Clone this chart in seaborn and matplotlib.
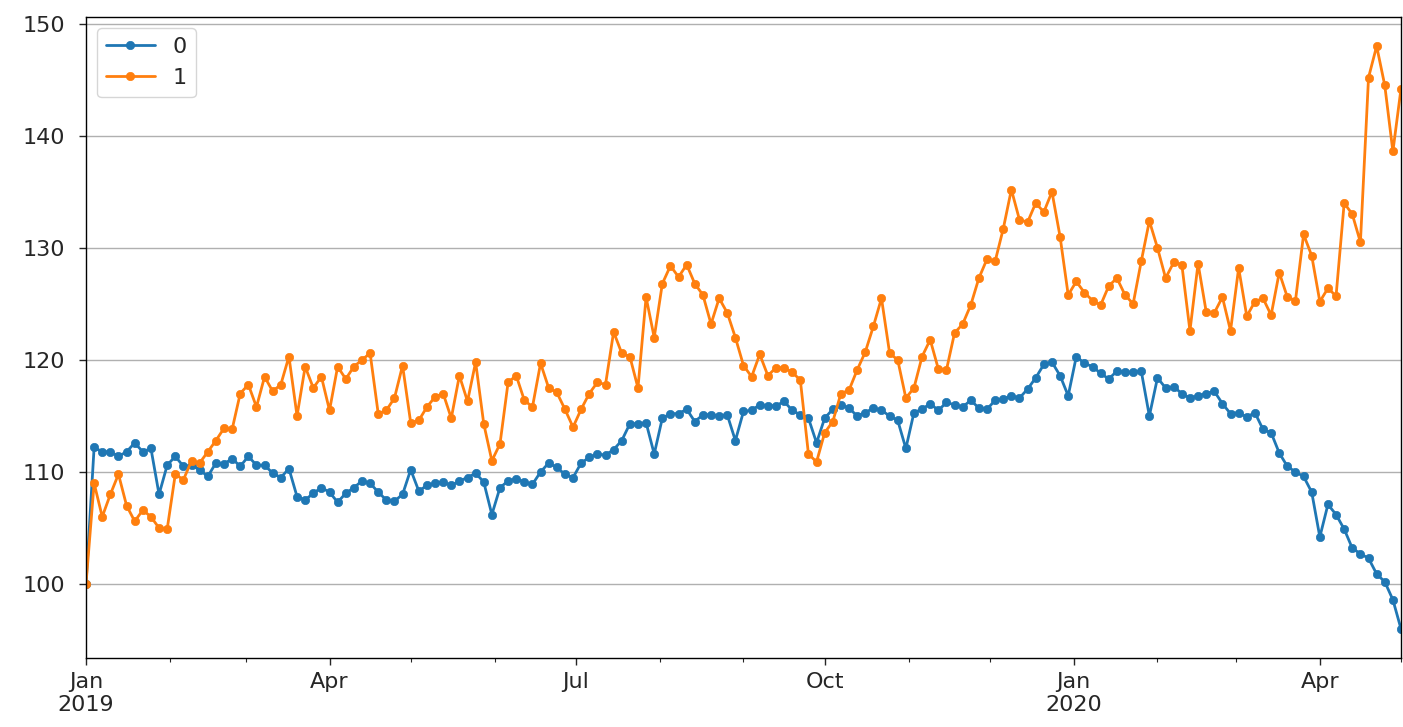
import numpy as np
import pandas as pd
import matplotlib
matplotlib.use('Agg')
import matplotlib.pyplot as plt
import matplotlib.dates as mdates
from matplotlib.ticker import FuncFormatter
import seaborn as sns

# ── Data (one value every 3 days) ─────────────────────────────────────────────
start_date = '2019-01-01'
step = '3D'

series_0 = [
    100.0, 112.2, 111.8, 111.8, 111.4, 111.8, 112.6, 111.8, 112.1, 108.0,
    110.6, 111.4, 110.5, 110.6, 110.2, 109.6, 110.8, 110.7, 111.2, 110.5,
    111.4, 110.6, 110.6, 109.9, 109.5, 110.3, 107.8, 107.5, 108.1, 108.6,
    108.2, 107.3, 108.1, 108.6, 109.2, 109.0, 108.2, 107.5, 107.4, 108.0,
    110.2, 108.3, 108.8, 109.0, 109.1, 108.8, 109.2, 109.5, 109.9, 109.1,
    106.2, 108.6, 109.2, 109.4, 109.1, 108.9, 110.0, 110.8, 110.4, 109.8,
    109.5, 110.8, 111.3, 111.6, 111.5, 112.0, 112.8, 114.3, 114.3, 114.4,
    111.6, 114.8, 115.2, 115.2, 115.6, 114.5, 115.1, 115.1, 115.0, 115.1,
    112.8, 115.4, 115.5, 116.0, 115.9, 115.9, 116.3, 115.5, 115.1, 114.8,
    112.6, 114.8, 115.6, 116.0, 115.7, 115.0, 115.3, 115.7, 115.5, 115.0,
    114.6, 112.1, 115.3, 115.6, 116.1, 115.5, 116.2, 116.0, 115.8, 116.4,
    115.7, 115.6, 116.4, 116.5, 116.8, 116.6, 117.4, 118.4, 119.6, 119.8,
    118.6, 116.8, 120.3, 119.7, 119.4, 118.8, 118.3, 119.0, 118.9, 118.9,
    119.0, 115.0, 118.4, 117.5, 117.6, 117.0, 116.6, 116.8, 117.0, 117.2,
    116.1, 115.2, 115.3, 114.9, 115.3, 113.8, 113.5, 111.7, 110.5, 110.0,
    109.6, 108.2, 104.2, 107.1, 106.2, 104.9, 103.2, 102.7, 102.3, 100.9,
    100.2, 98.6, 96.0,
]

series_1 = [
    100.0, 109.0, 106.0, 108.0, 109.8, 107.0, 105.6, 106.6, 106.0, 105.0,
    104.9, 109.8, 109.3, 111.0, 110.8, 111.8, 112.8, 113.9, 113.8, 117.0,
    117.8, 115.8, 118.5, 117.2, 117.8, 120.3, 115.0, 119.4, 117.5, 118.5,
    115.5, 119.4, 118.3, 119.4, 120.0, 120.6, 115.2, 115.5, 116.6, 119.5,
    114.4, 114.6, 115.8, 116.7, 117.0, 114.8, 118.6, 116.3, 119.8, 114.3,
    111.0, 112.5, 118.0, 118.6, 116.4, 115.8, 119.7, 117.5, 117.1, 115.6,
    114.0, 115.6, 117.0, 118.0, 117.8, 122.5, 120.6, 120.3, 117.5, 125.6,
    122.0, 126.8, 128.4, 127.4, 128.5, 126.8, 125.8, 123.2, 125.5, 124.2,
    122.0, 119.5, 118.5, 120.5, 118.6, 119.3, 119.3, 118.9, 118.2, 111.6,
    110.9, 113.5, 114.5, 117.0, 117.3, 119.1, 120.7, 123.0, 125.5, 120.6,
    120.0, 116.6, 117.5, 120.3, 121.8, 119.2, 119.1, 122.4, 123.2, 124.9,
    127.3, 129.0, 128.8, 131.7, 135.2, 132.5, 132.3, 134.0, 133.2, 135.0,
    131.0, 125.8, 127.0, 126.0, 125.3, 124.9, 126.6, 127.3, 125.8, 125.0,
    128.8, 132.4, 130.0, 127.3, 128.7, 128.5, 122.6, 128.6, 124.3, 124.2,
    125.6, 122.6, 128.2, 123.9, 125.2, 125.5, 124.0, 127.8, 125.6, 125.3,
    131.2, 129.3, 125.2, 126.4, 125.7, 134.0, 133.0, 130.5, 145.2, 148.0,
    144.5, 138.6, 144.2,
]

series_names = ['0', '1']
colors = ['#1f77b4', '#ff7f0e']

dates = pd.date_range(start_date, periods=len(series_0), freq=step)
df = pd.DataFrame({'date': dates, '0': series_0, '1': series_1})

# ── Plot ──────────────────────────────────────────────────────────────────────
sns.set_style('ticks')
plt.rcParams['font.family'] = ['DejaVu Sans']
plt.rcParams['font.size'] = 16

fig = plt.figure(figsize=(14.03, 7.27), dpi=100)
ax = fig.add_axes([86 / 1403, 1 - 658 / 727, (1401 - 86) / 1403, (658 - 17) / 727])

for name, color in zip(series_names, colors):
    sns.lineplot(data=df, x='date', y=name, ax=ax, color=color, label=name,
                 marker='.', markersize=12, mec=color, mew=0.5, linewidth=2.0)

ax.set_xlim(dates[0], dates[-1])
ax.set_xlabel('')
ax.set_ylabel('')

ax.xaxis.set_major_locator(mdates.MonthLocator(bymonth=[1, 4, 7, 10]))
ax.xaxis.set_minor_locator(mdates.MonthLocator())


def quarter_label(x, pos):
    d = mdates.num2date(x)
    return d.strftime('%b\n%Y') if d.month == 1 else d.strftime('%b')


ax.xaxis.set_major_formatter(FuncFormatter(quarter_label))
ax.tick_params(axis='both', which='major', labelsize=16, length=5, width=1)
ax.tick_params(axis='y', which='major', pad=10)
ax.tick_params(axis='x', which='major', pad=5)
ax.tick_params(axis='x', which='minor', length=3, width=0.8)

ax.grid(axis='y', color='#b0b0b0', linewidth=1.0)
ax.grid(axis='x', visible=False)
for s in ax.spines.values():
    s.set_color('black')
    s.set_linewidth(1.0)

ax.legend(loc='upper left', fontsize=16, frameon=True, handlelength=2.2)

plt.savefig('out.png', dpi=100)
plt.close()
